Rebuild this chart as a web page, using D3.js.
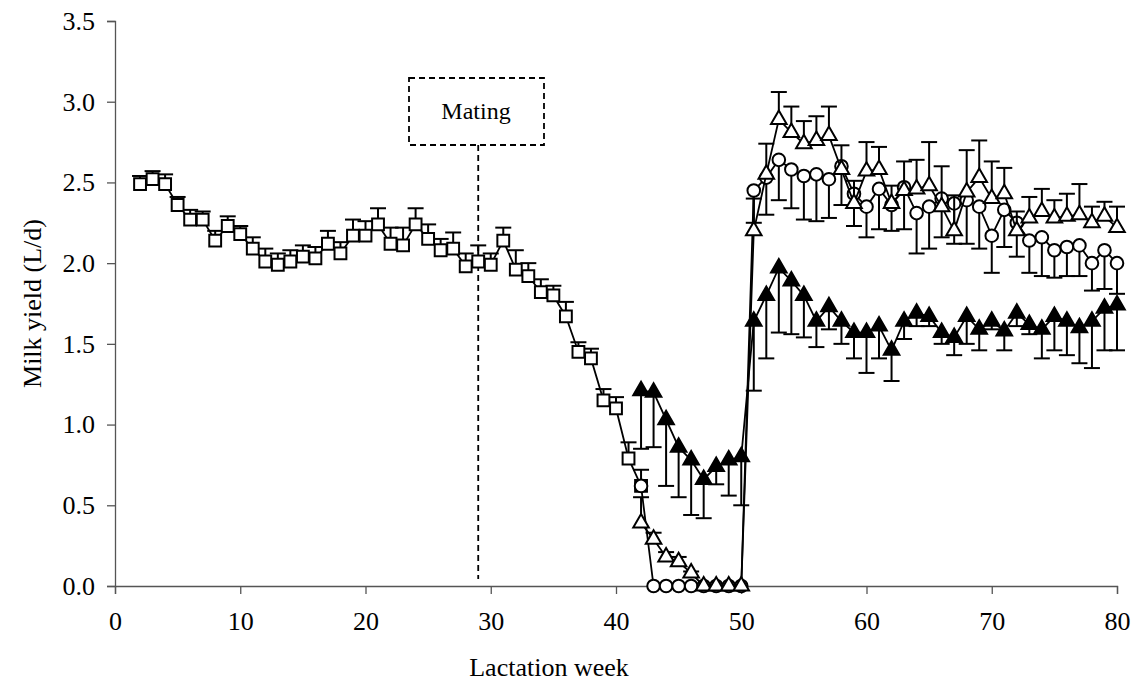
<!DOCTYPE html>
<html><head><meta charset="utf-8">
<script src="https://cdn.jsdelivr.net/npm/d3@7"></script>
<style>body{margin:0;background:#fff}svg{display:block}text{font-family:"Liberation Serif","Times New Roman",serif}</style>
</head><body><svg id="c" width="1138" height="686"></svg>
<script>
// ---- data ----
const weeksSquare = d3.range(2, 43);
const squareVals = [2.49,2.52,2.49,2.36,2.27,2.27,2.14,2.23,2.18,2.09,2.01,1.99,2.01,2.04,2.03,2.12,2.06,2.17,2.17,2.24,2.12,2.11,2.24,2.15,2.08,2.09,1.98,2.01,1.99,2.14,1.96,1.92,1.82,1.80,1.67,1.45,1.41,1.15,1.10,0.79,0.62];
const squareErr  = [0.05,0.05,0.06,0.05,0.06,0.05,0.06,0.06,0.05,0.07,0.08,0.07,0.07,0.07,0.07,0.08,0.07,0.10,0.09,0.10,0.10,0.11,0.10,0.09,0.07,0.10,0.08,0.10,0.07,0.08,0.12,0.08,0.08,0.06,0.09,0.06,0.06,0.07,0.07,0.10,0.10];

const weeksLate = d3.range(42, 81);
const filledTriVals = [1.21,1.20,1.03,0.86,0.78,0.66,0.74,0.78,0.80,1.64,1.80,1.97,1.89,1.80,1.64,1.73,1.64,1.57,1.57,1.61,1.46,1.64,1.69,1.67,1.57,1.54,1.67,1.59,1.64,1.58,1.69,1.62,1.59,1.67,1.64,1.60,1.64,1.72,1.74];
const filledTriLow  = [0.85,0.86,0.62,0.55,0.44,0.42,0.63,0.56,0.50,1.21,1.41,1.57,1.56,1.54,1.48,1.59,1.50,1.41,1.32,1.41,1.27,1.53,1.61,1.61,1.50,1.43,1.50,1.46,1.59,1.46,1.61,1.56,1.41,1.46,1.43,1.38,1.35,1.46,1.46];

const openTriVals = [0.39,0.29,0.18,0.15,0.08,0,0,0,0,2.20,2.55,2.89,2.81,2.74,2.76,2.79,2.58,2.37,2.57,2.58,2.37,2.45,2.46,2.48,2.35,2.20,2.44,2.53,2.40,2.43,2.20,2.28,2.32,2.28,2.29,2.30,2.25,2.29,2.22];
const openTriHigh = [0.55,0.33,0.21,0.18,0.09,0,0,0,0,2.40,2.74,3.06,2.97,2.88,2.91,2.97,2.73,2.51,2.75,2.72,2.48,2.63,2.64,2.75,2.60,2.42,2.70,2.76,2.63,2.59,2.32,2.41,2.46,2.39,2.43,2.49,2.35,2.38,2.35];

const circleVals = [0.62,0,0,0,0,0,0,0,0,2.45,2.53,2.64,2.58,2.54,2.55,2.52,2.60,2.43,2.35,2.46,2.36,2.47,2.31,2.35,2.40,2.37,2.39,2.35,2.17,2.33,2.25,2.14,2.16,2.08,2.10,2.11,2.00,2.08,2.00];
const circleLow  = [0.62,0,0,0,0,0,0,0,0,2.25,2.30,2.39,2.34,2.27,2.26,2.28,2.36,2.23,2.16,2.21,2.20,2.21,2.06,2.09,2.16,2.12,2.12,2.09,1.94,2.10,2.04,1.94,1.92,1.91,1.92,1.92,1.83,1.84,1.81];

const xTicks = [0,10,20,30,40,50,60,70,80];
const yTicks = [0,0.5,1,1.5,2,2.5,3,3.5];
const matingWeek = 29;

// ---- layout ----
const svg = d3.select('#c');
const L = 115, R = 1117, T = 21, B = 586;
const x = d3.scaleLinear().domain([0,80]).range([L,R]);
const y = d3.scaleLinear().domain([0,3.5]).range([B,T]);
const FONT = 26;

// axes
const ax = svg.append('g').attr('transform',`translate(0,${B})`).call(d3.axisBottom(x).tickValues(xTicks).tickSize(8).tickPadding(18).tickFormat(d3.format('d')));
const ay = svg.append('g').attr('transform',`translate(${L},0)`).call(d3.axisLeft(y).tickValues(yTicks).tickSize(8).tickPadding(12).tickFormat(d3.format('.1f')));
[ax,ay].forEach(g=>{
  g.select('.domain').attr('stroke','#555').attr('stroke-width',1.3);
  g.selectAll('.tick line').attr('stroke','#555').attr('stroke-width',1.3);
  g.selectAll('.tick text').attr('font-size',FONT).attr('fill','#000').style('font-family','"Liberation Serif",serif');
});

svg.append('text').attr('x',549).attr('y',676).attr('text-anchor','middle').attr('font-size',FONT).text('Lactation week');
svg.append('text').attr('transform',`translate(41,${(T+B)/2}) rotate(-90)`).attr('text-anchor','middle').attr('font-size',FONT).text('Milk yield (L/d)');

// mating annotation
svg.append('line').attr('x1',x(matingWeek)).attr('x2',x(matingWeek)).attr('y1',145).attr('y2',579)
  .attr('stroke','#000').attr('stroke-width',1.8).attr('stroke-dasharray','6,4');
svg.append('rect').attr('x',409).attr('y',78).attr('width',135).attr('height',67)
  .attr('fill','#fff').attr('stroke','#000').attr('stroke-width',1.8).attr('stroke-dasharray','6,4');
svg.append('text').attr('x',476).attr('y',119).attr('text-anchor','middle').attr('font-size',24).text('Mating');

const line = d3.line().x(d=>x(d.w)).y(d=>y(d.v));
const cap = 8;

function series(weeks, vals, ends, shape, fill){
  const data = weeks.map((w,i)=>({w, v:vals[i], e:ends[i]}));
  const g = svg.append('g');
  g.append('path').datum(data).attr('d',line).attr('fill','none').attr('stroke','#000').attr('stroke-width',1.8);
  const eb = g.selectAll('.eb').data(data.filter(d=>Math.abs(d.e-d.v)>0.005)).enter().append('g');
  eb.append('line').attr('x1',d=>x(d.w)).attr('x2',d=>x(d.w)).attr('y1',d=>y(d.v)).attr('y2',d=>y(d.e)).attr('stroke','#000').attr('stroke-width',2);
  eb.append('line').attr('x1',d=>x(d.w)-cap).attr('x2',d=>x(d.w)+cap).attr('y1',d=>y(d.e)).attr('y2',d=>y(d.e)).attr('stroke','#000').attr('stroke-width',2);
  const sym = d3.symbol().type(shape).size(shape===d3.symbolSquare?140:shape===d3.symbolCircle?125:105);
  g.selectAll('.m').data(data).enter().append('path')
    .attr('d',sym).attr('transform',d=>`translate(${x(d.w)},${y(d.v)})`)
    .attr('fill',fill).attr('stroke','#000').attr('stroke-width',2);
}

series(weeksSquare, squareVals, squareVals.map((v,i)=>v+squareErr[i]), d3.symbolSquare, '#fff');
series(weeksLate, filledTriVals, filledTriLow, d3.symbolTriangle, '#000');
series(weeksLate, circleVals, circleLow, d3.symbolCircle, '#fff');
series(weeksLate, openTriVals, openTriHigh, d3.symbolTriangle, '#fff');
</script></body></html>
